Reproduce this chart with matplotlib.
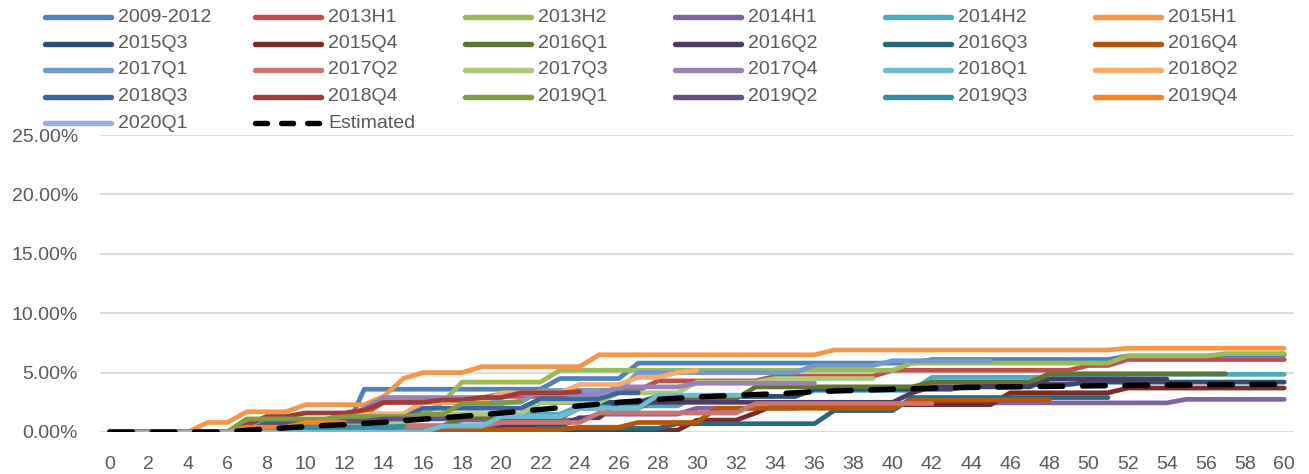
import numpy as np
import matplotlib.pyplot as plt
from matplotlib.lines import Line2D

plt.rcParams['font.family'] = ['Liberation Sans', 'DejaVu Sans']

# vintage names, colours and last observed month
names = ["2009-2012", "2013H1", "2013H2", "2014H1", "2014H2", "2015H1",
         "2015Q3", "2015Q4", "2016Q1", "2016Q2", "2016Q3", "2016Q4",
         "2017Q1", "2017Q2", "2017Q3", "2017Q4", "2018Q1", "2018Q2",
         "2018Q3", "2018Q4", "2019Q1", "2019Q2", "2019Q3", "2019Q4",
         "2020Q1"]
colors = ["#4F81BD", "#C0504D", "#9BBB59", "#8064A2", "#4BACC6", "#F79646",
          "#2C4D75", "#772C2A", "#5F7530", "#4D3B62", "#276A7C", "#B65708",
          "#729ACA", "#CD7371", "#AFC97A", "#9983B5", "#6FBDD1", "#F9AB6B",
          "#3A679C", "#9F3B38", "#7E9D40", "#664F82", "#358EA6", "#F38428",
          "#95B3D7"]
last_month = [60, 60, 60, 60, 60, 60, 60, 60, 57, 54, 51, 48, 45, 42, 39, 36,
              33, 30, 27, 24, 21, 18, 15, 12, 9]

# cumulative rate (%): {month where it changes: new value}
steps = [
    {0: 0, 13: 3.6, 23: 4.5, 27: 5.8, 42: 6.1, 52: 6.4, 57: 6.5},
    {0: 0, 7: 0.5, 8: 1.0, 12: 1.5, 14: 2.5, 20: 3.0, 24: 3.5, 28: 4.3, 34: 4.7, 40: 5.2, 50: 5.6, 52: 6.1},
    {0: 0, 7: 1.0, 12: 1.5, 17: 2.5, 18: 4.2, 23: 5.2, 41: 5.8, 52: 6.4, 57: 6.6},
    {0: 0, 10: 0.5, 18: 1.0, 25: 1.5, 30: 2.0, 36: 2.3, 42: 2.45, 55: 2.75},
    {0: 0, 14: 0.5, 18: 1.5, 24: 2.2, 30: 3.0, 36: 3.5, 42: 4.6, 52: 4.85},
    {0: 0, 5: 0.8, 7: 1.7, 10: 2.3, 14: 3.0, 15: 4.5, 16: 5.0, 19: 5.5, 25: 6.5, 37: 6.9, 52: 7.05},
    {0: 0, 10: 0.4, 12: 0.8, 16: 1.5, 22: 2.5, 28: 3.0, 36: 3.6, 44: 4.0, 50: 4.2},
    {0: 0, 25: 0.15, 30: 1.0, 33: 1.6, 34: 2.3, 46: 3.3, 52: 3.7},
    {0: 0, 15: 0.5, 18: 1.2, 24: 2.0, 28: 2.8, 33: 3.8, 42: 4.2, 48: 4.9},
    {0: 0, 17: 0.5, 24: 1.2, 26: 2.5, 41: 3.3, 42: 3.8, 48: 4.45},
    {0: 0, 22: 0.3, 29: 0.7, 37: 1.8, 41: 2.9},
    {0: 0, 17: 0.2, 24: 0.4, 27: 0.8, 31: 2.0, 41: 2.7},
    {0: 0, 7: 0.8, 12: 1.5, 16: 2.5, 22: 3.5, 27: 5.0, 36: 5.6, 40: 6.0},
    {0: 0, 14: 0.5, 20: 0.8, 25: 1.6, 33: 2.4},
    {0: 0, 10: 0.8, 16: 1.5, 22: 2.5, 26: 3.3, 30: 4.2, 34: 4.5},
    {0: 0, 10: 1.0, 13: 2.0, 14: 2.9, 20: 3.2, 26: 3.8, 30: 4.1},
    {0: 0, 17: 0.5, 20: 1.3, 24: 2.0, 28: 3.1},
    {0: 0, 8: 0.8, 12: 1.5, 16: 2.5, 20: 3.3, 24: 4.0, 27: 4.6, 29: 5.0, 30: 5.2},
    {0: 0, 8: 0.8, 12: 1.2, 16: 2.0, 22: 2.8, 26: 3.3},
    {0: 0, 7: 0.6, 8: 1.3, 10: 1.6, 13: 1.85, 14: 2.5, 17: 2.7, 19: 2.9, 21: 3.3, 24: 3.4},
    {0: 0, 7: 1.1, 12: 1.3, 16: 1.5, 18: 2.4, 21: 2.6},
    {0: 0, 8: 0.6, 12: 0.9, 14: 1.1, 18: 1.3},
    {0: 0, 9: 0.4, 15: 0.5},
    {0: 0, 7: 0.4, 10: 0.8},
    {0: 0},
]

estimated = [0, 0, 0, 0, 0, 0, 0, 0.15, 0.25, 0.35, 0.45, 0.55, 0.62, 0.72,
             0.82, 0.95, 1.08, 1.2, 1.32, 1.45, 1.6, 1.75, 1.9, 2.05, 2.2,
             2.35, 2.5, 2.62, 2.75, 2.85, 2.95, 3.02, 3.08, 3.15, 3.22, 3.3,
             3.38, 3.45, 3.5, 3.55, 3.6, 3.64, 3.68, 3.72, 3.75, 3.78, 3.8,
             3.82, 3.84, 3.86, 3.88, 3.9, 3.92, 3.94, 3.95, 3.96, 3.97, 3.98,
             3.99, 4.0, 4.0]

W, H = 1309, 474
fig = plt.figure(figsize=(W / 100, H / 100), dpi=100)
ax = fig.add_axes([100 / W, 42 / H, 1194 / W, 297 / H])

gray = "#595959"
lw = 3.4

for name, col, last, st in zip(names, colors, last_month, steps):
    m = np.arange(last + 1)
    v = np.zeros(last + 1)
    for k in sorted(st):
        v[k:] = st[k]
    ax.plot(m, v / 100, color=col, lw=lw, solid_joinstyle='round',
            solid_capstyle='round')

est_m = np.arange(len(estimated))
ax.plot(est_m, np.array(estimated) / 100, color='black', lw=lw * 1.15,
        dashes=(4.2, 3.6), dash_capstyle='round')

ax.set_xlim(-0.5, 60.5)
ax.set_ylim(0, 0.25)
ax.set_xticks(np.arange(0, 61, 2))
ax.set_yticks(np.arange(0, 0.2501, 0.05))
ax.set_yticklabels([f"{t * 100:.2f}%" for t in np.arange(0, 0.2501, 0.05)])
ax.grid(axis='y', color='#D9D9D9', lw=1.3)
ax.set_axisbelow(True)
for s in ax.spines.values():
    s.set_visible(False)
ax.tick_params(length=0, labelsize=14, colors=gray)
ax.tick_params(axis='y', pad=16)
ax.tick_params(axis='x', pad=17)

# legend laid out in rows like the spreadsheet one
leg_names = names + ["Estimated"]
leg_colors = colors + ["black"]
for i, (nm, col) in enumerate(zip(leg_names, leg_colors)):
    r, c = divmod(i, 6)
    x0 = 45 + c * 210
    y0 = H - (17 + r * 26.5)
    kw = dict(dashes=(2.2, 2.6), dash_capstyle='round') if nm == "Estimated" else dict(solid_capstyle='round')
    fig.add_artist(Line2D([x0 / W, (x0 + 66) / W], [y0 / H, y0 / H], color=col,
                          lw=lw * 1.15, transform=fig.transFigure, **kw))
    fig.text((x0 + 73) / W, y0 / H, nm, fontsize=14, color=gray,
             va='center', ha='left')

fig.savefig("out.png", dpi=100)
